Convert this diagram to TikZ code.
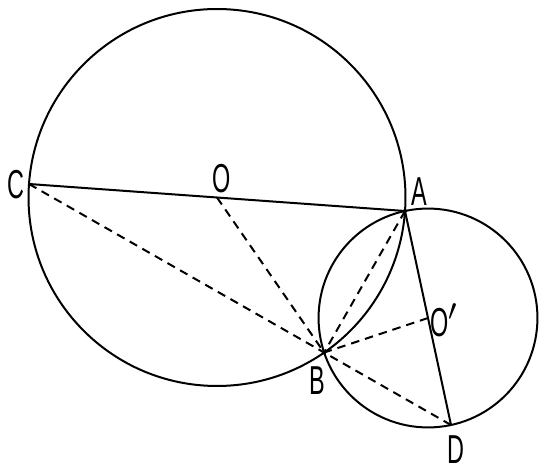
\documentclass[tikz,border=0pt]{standalone}
\usepackage{fontspec}
\setmainfont{Liberation Sans}[FakeStretch=0.58]
\usetikzlibrary{calc}

\tikzset{
	lbl/.style={font=\fontsize{23}{25}\selectfont, inner sep=0pt},
	chord/.style={line width=0.04cm, dash pattern=on 0.17cm off 0.12cm},
}

\begin{document}
\begin{tikzpicture}[x=0.02cm, y=-0.02cm, line width=0.04cm]
			%%%%% START %%%%%
			\useasboundingbox (0, 0) rectangle (546, 472);
			
			\coordinate (C) at (29, 184);
			\coordinate (A) at (405, 211);
			\coordinate (D) at (451, 425);
			\coordinate (O) at ($(C)!0.5!(A)$);
			\coordinate (Op) at ($(A)!0.5!(D)$);
			\coordinate (B) at ($(A)!2!($(O)!(A)!(Op)$)$);
			
			\draw let \p1 = ($(A)-(O)$) in (O) circle ({veclen(\x1,\y1)});
			\draw let \p1 = ($(A)-(Op)$) in (Op) circle ({veclen(\x1,\y1)});
			
			\draw (C) -- (A);
			\draw (A) -- (D);
			
			\draw[chord] (C) -- (B);
			\draw[chord] (O) -- (B);
			\draw[chord] (A) -- (B);
			\draw[chord] (Op) -- (B);
			\draw[chord] (D) -- (B);
			
			\fill (A) circle (2);
			\fill (B) circle (2);
			
			\node[lbl] (lC) at (16, 185) {C};
			\node[lbl] (lO) at (222, 179) {O};
			\node[lbl] (lA) at (419, 192) {A};
			\node[lbl] (lOp) at (444, 320) {O$'$};
			\node[lbl] (lB) at (317, 381) {B};
			\node[lbl] (lD) at (456, 450) {D};
			%%%%% END %%%%%
		\end{tikzpicture}
\end{document}
